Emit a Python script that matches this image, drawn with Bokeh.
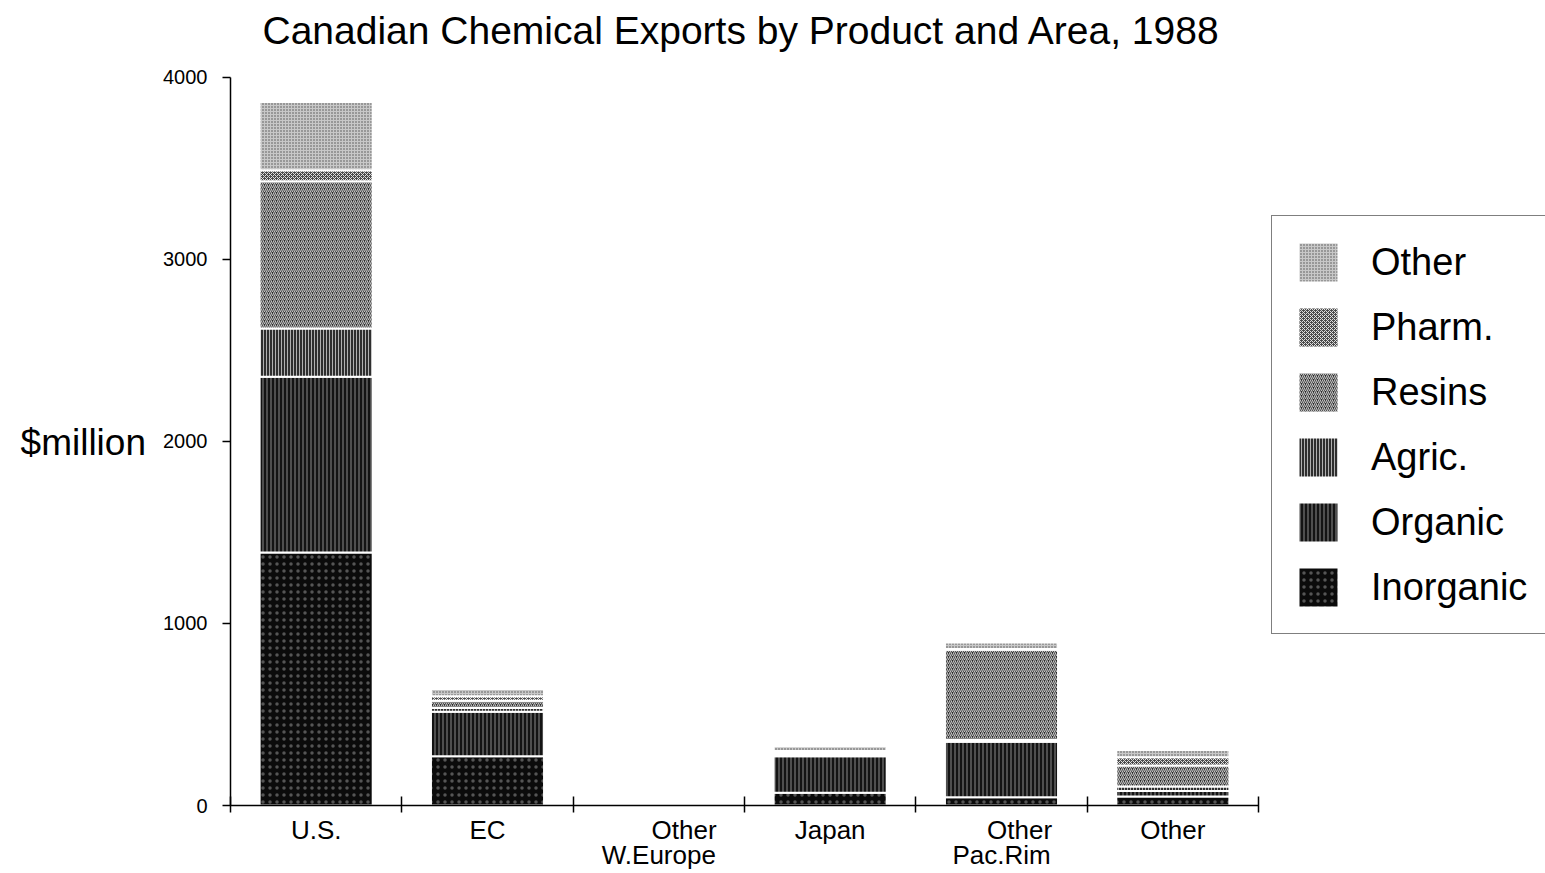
from bokeh.plotting import figure
from bokeh.models import Range1d, FixedTicker, Legend, LegendItem, ColumnDataSource, Label
from bokeh.embed import file_html
from bokeh.resources import INLINE

# ---- data ----
NB = "\u00a0"
title = "Canadian Chemical Exports by Product and Area, 1988"
y_label = "$million"
areas = ["U.S.", "EC", NB * 7 + "Other\nW.Europe", "Japan", NB * 5 + "Other\nPac.Rim", "Other"]
products = ["Inorganic", "Organic", "Agric.", "Resins", "Pharm.", "Other"]
inorganic = [1390, 270, 0, 70, 45, 50]
organic = [965, 245, 0, 200, 305, 30]
agric = [265, 20, 0, 10, 10, 25]
resins = [810, 40, 0, 10, 495, 115]
pharm = [60, 25, 0, 10, 5, 45]
other = [375, 40, 0, 25, 35, 40]
y_ticks = [0, 1000, 2000, 3000, 4000]
y_max = 4000

FONT = "Liberation Sans"

keys = ["inorganic", "organic", "agric", "resins", "pharm", "other"]
n = len(areas)
xpos = [i + 0.5 for i in range(n)]
source = ColumnDataSource(dict(x=xpos, inorganic=inorganic, organic=organic, agric=agric,
                               resins=resins, pharm=pharm, other=other))

styles = {
    "inorganic": dict(fill_color="#0b0b0b", hatch_pattern="dot", hatch_color="#ffffff", hatch_scale=7, hatch_alpha=0.3),
    "organic": dict(fill_color="#141414", hatch_pattern="vertical_line", hatch_color="#8a8a8a", hatch_scale=4, hatch_weight=1),
    "agric": dict(fill_color="#2e2e2e", hatch_pattern="vertical_line", hatch_color="#b0b0b0", hatch_scale=3, hatch_weight=1),
    "resins": dict(fill_color="#2a2a2a", hatch_pattern="right_diagonal_line", hatch_color="#c4c4c4", hatch_scale=4, hatch_weight=1.1),
    "pharm": dict(fill_color="#4a4a4a", hatch_pattern="diagonal_cross", hatch_color="#e0e0e0", hatch_scale=4, hatch_weight=1),
    "other": dict(fill_color="#c8c8c8", hatch_pattern="dot", hatch_color="#404040", hatch_scale=3, hatch_alpha=0.9),
}

# Layout (pixels): the frame spans the whole canvas to the right and top so the
# title and legend can be placed freely; the axes are bounded to the data area.
W, H = 1545, 873
AX_LEFT, AX_RIGHT, AX_TOP, AX_BOTTOM = 230, 1258, 77, 806
x_end = (W - AX_LEFT) * n / (AX_RIGHT - AX_LEFT)
y_end = y_max * AX_BOTTOM / (AX_BOTTOM - AX_TOP)

p = figure(width=W, height=H, x_range=Range1d(0, x_end), y_range=Range1d(0, y_end),
           output_backend="svg", toolbar_location=None,
           min_border_left=AX_LEFT, min_border_right=0, min_border_top=0,
           min_border_bottom=H - AX_BOTTOM)

renderers = {}
bottom = [0] * n
for k in keys:
    vals = source.data[k]
    top = [b + v for b, v in zip(bottom, vals)]
    r = p.vbar(x=xpos, bottom=bottom, top=top, width=0.66,
               line_color="white", line_width=2, **styles[k])
    renderers[k] = r
    bottom = top

p.grid.visible = False
p.outline_line_color = None
p.background_fill_color = "white"

# title as a label inside the (tall) frame
p.add_layout(Label(x=32, y=AX_BOTTOM - 31, x_units="screen", y_units="screen", text=title,
                   text_font=FONT, text_font_size="39px", text_color="black",
                   text_baseline="alphabetic", text_align="left"))

# y axis
p.yaxis.bounds = (0, y_max)
p.yaxis.ticker = FixedTicker(ticks=y_ticks)
p.yaxis.major_tick_in = 0
p.yaxis.major_tick_out = 8
p.yaxis.minor_tick_line_color = None
p.yaxis.major_label_text_font = FONT
p.yaxis.major_label_text_font_size = "20px"
p.yaxis.major_label_text_color = "black"
p.yaxis.major_label_standoff = 15
p.yaxis.axis_line_width = 1.5
p.yaxis.major_tick_line_width = 1.5
# the label is centred on the (taller) frame; a leading blank line moves it to the data centre
p.yaxis.axis_label = "\n" + y_label
p.yaxis.axis_label_text_font = FONT
p.yaxis.axis_label_text_font_size = "37px"
p.yaxis.axis_label_text_line_height = 1.91
p.yaxis.axis_label_text_font_style = "normal"
p.yaxis.axis_label_text_color = "black"
p.yaxis.axis_label_standoff = 14
if "axis_label_orientation" in p.yaxis[0].properties():
    p.yaxis.axis_label_orientation = "horizontal"

# x axis: labels at centres, tick marks at boundaries
p.xaxis.bounds = (0, n)
p.xaxis.ticker = FixedTicker(ticks=xpos, minor_ticks=list(range(n + 1)))
p.xaxis.major_label_overrides = {x: a for x, a in zip(xpos, areas)}
p.xaxis.major_tick_line_color = None
p.xaxis.major_tick_out = 5
p.xaxis.minor_tick_in = 9
p.xaxis.minor_tick_out = 7
p.xaxis.minor_tick_line_width = 1.5
p.xaxis.axis_line_width = 1.5
p.xaxis.major_label_text_font = FONT
p.xaxis.major_label_text_font_size = "26px"
p.xaxis.major_label_text_line_height = 0.85
p.xaxis.major_label_text_color = "black"
p.xaxis.major_label_standoff = 2

# legend
items = [LegendItem(label=lab, renderers=[renderers[k]]) for lab, k in zip(products, keys)]
items.reverse()
legend = Legend(items=items, location=(1271 - AX_LEFT, 171))
legend.label_text_font = FONT
legend.label_text_font_size = "38px"
legend.label_text_color = "black"
legend.glyph_width = 50
legend.glyph_height = 50
legend.label_height = 50
legend.label_standoff = 28
legend.spacing = 15
legend.padding = 21
legend.margin = 0
legend.border_line_color = "black"
legend.border_line_width = 1.5
legend.background_fill_alpha = 1
p.add_layout(legend, "center")

open("out.html", "w").write(file_html(p, INLINE))
